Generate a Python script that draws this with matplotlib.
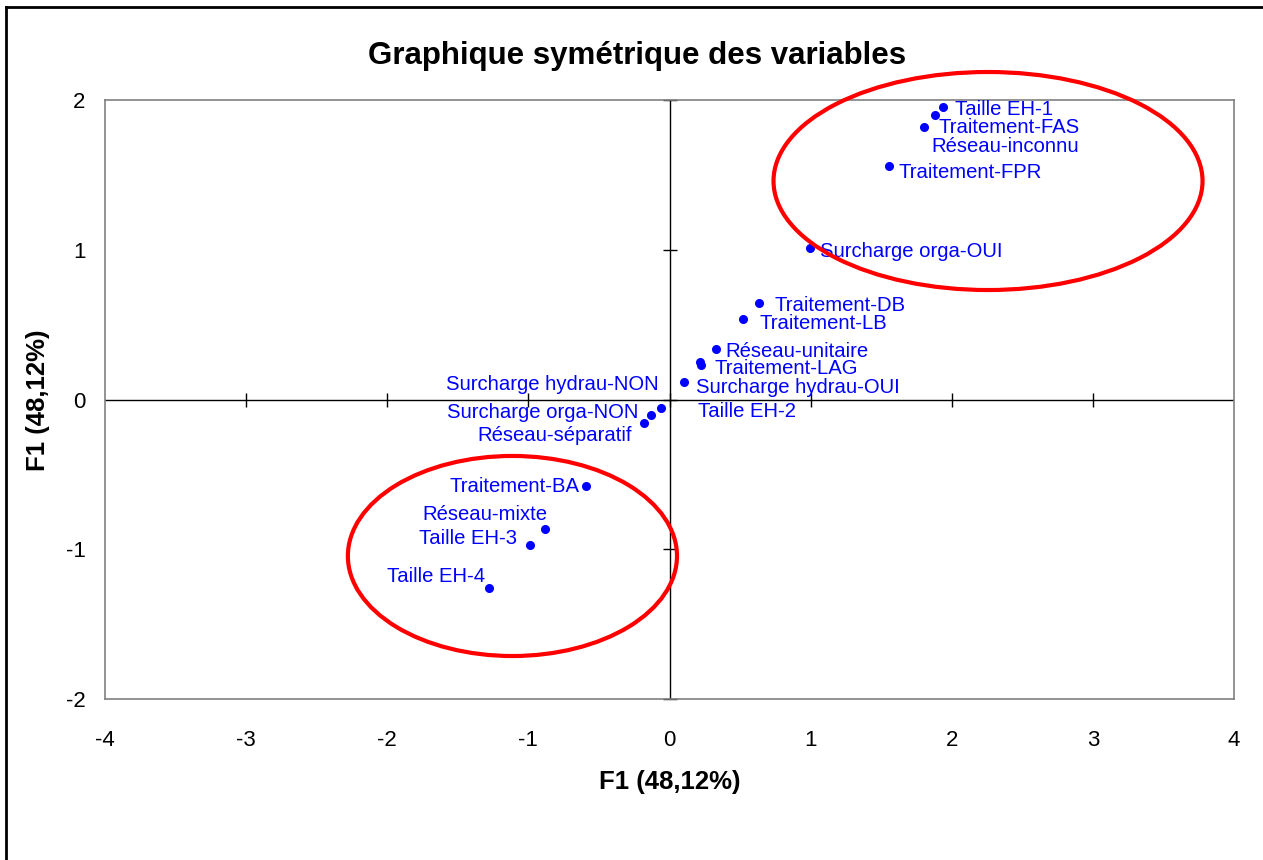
import matplotlib
matplotlib.use("Agg")
import matplotlib.pyplot as plt
from matplotlib.patches import Ellipse
from matplotlib.lines import Line2D

plt.rcParams['font.family'] = ['Liberation Sans', 'DejaVu Sans']

# Coordonnées des modalités
labels = ['Taille EH-1', 'Réseau-inconnu', 'Traitement-FAS', 'Traitement-FPR',
          'Surcharge orga-OUI', 'Traitement-DB', 'Traitement-LB', 'Réseau-unitaire',
          'Traitement-LAG', 'Taille EH-2', 'Surcharge hydrau-OUI',
          'Surcharge hydrau-NON', 'Surcharge orga-NON', 'Réseau-séparatif',
          'Traitement-BA', 'Réseau-mixte', 'Taille EH-3', 'Taille EH-4']
x_vals = [1.938, 1.882, 1.804, 1.556, 0.996, 0.634, 0.521, 0.330, 0.216, 0.223, 0.103,
          -0.060, -0.131, -0.181, -0.592, -0.882, -0.989, -1.279]
y_vals = [1.953, 1.900, 1.820, 1.559, 1.012, 0.644, 0.538, 0.337, 0.250, 0.230, 0.117,
          -0.057, -0.104, -0.157, -0.578, -0.865, -0.972, -1.259]

# décalage des étiquettes (pixels) et alignement
label_dx = [12, -4, 14, 9, 10, 16, 16, 9, 15, -3, 12, -2, -13, -12, -6, 2, -13, -4]
label_dy = [-2, -32, -1, -6, -4, -2, -5, -2, -6, -46, -6, 24, 3, -12, 0, 15, 7, 12]
label_ha = ['left'] * 11 + ['right'] * 7

x_ticks = [-4, -3, -2, -1, 0, 1, 2, 3, 4]
y_ticks = [-2, -1, 0, 1, 2]

# ellipses de regroupement (centre x, centre y, largeur, hauteur)
ell_cx = [2.257, -1.113]
ell_cy = [1.459, -1.045]
ell_w = [3.040, 2.332]
ell_h = [1.456, 1.336]

fig = plt.figure(figsize=(12.63, 8.60), dpi=100)
ax = fig.add_axes([105 / 1263, 1 - 699 / 860, 1129 / 1263, 599 / 860])

ax.set_xlim(-4, 4)
ax.set_ylim(-2, 2)
for s in ax.spines.values():
    s.set_color('#808080')
    s.set_linewidth(1.2)

ax.set_xticks(x_ticks)
ax.set_yticks(y_ticks)
ax.set_xticklabels([str(t) for t in x_ticks])
ax.set_yticklabels([str(t) for t in y_ticks])
ax.tick_params(axis='x', length=0, pad=22, labelsize=16)
ax.tick_params(axis='y', length=0, pad=14, labelsize=16)

# axes centraux avec graduations
ax.axhline(0, color='black', lw=1, zorder=1)
ax.axvline(0, color='black', lw=1, zorder=1)
ax.plot(x_ticks[1:-1], [0] * (len(x_ticks) - 2), ls='none', marker='|', ms=10, mew=1,
        color='black', zorder=1)
ax.plot([0] * len(y_ticks), y_ticks, ls='none', marker='_', ms=10, mew=1,
        color='black', zorder=1, clip_on=False)

# points
ax.plot(x_vals, y_vals, ls='none', marker='o', ms=5.5, color='#0000FF', zorder=3)
for i in range(len(labels)):
    ax.annotate(labels[i], (x_vals[i], y_vals[i]), xytext=(label_dx[i], label_dy[i]),
                textcoords='offset pixels', ha=label_ha[i], va='center',
                fontsize=14.6, color='#0000FF', zorder=4)

for i in range(len(ell_cx)):
    e = Ellipse((ell_cx[i], ell_cy[i]), ell_w[i], ell_h[i], fill=False,
                edgecolor='#FF0000', lw=3, clip_on=False, zorder=5)
    ax.add_patch(e)

fig.text(637 / 1263, 1 - 56 / 860, 'Graphique symétrique des variables',
         ha='center', va='center', fontsize=22.5, fontweight='bold')
fig.text(670 / 1263, 1 - 782 / 860, 'F1 (48,12%)', ha='center', va='center',
         fontsize=18.5, fontweight='bold')
fig.text(38 / 1263, 1 - 400 / 860, 'F1 (48,12%)', ha='center', va='center',
         fontsize=18.5, fontweight='bold', rotation=90)

# cadre extérieur
fig.add_artist(Line2D([6 / 1263, 6 / 1263], [0, 1 - 7 / 860], color='black', lw=2,
                      transform=fig.transFigure))
fig.add_artist(Line2D([6 / 1263, 1], [1 - 7 / 860, 1 - 7 / 860], color='black', lw=2,
                      transform=fig.transFigure))

fig.savefig('out.png', dpi=100)
